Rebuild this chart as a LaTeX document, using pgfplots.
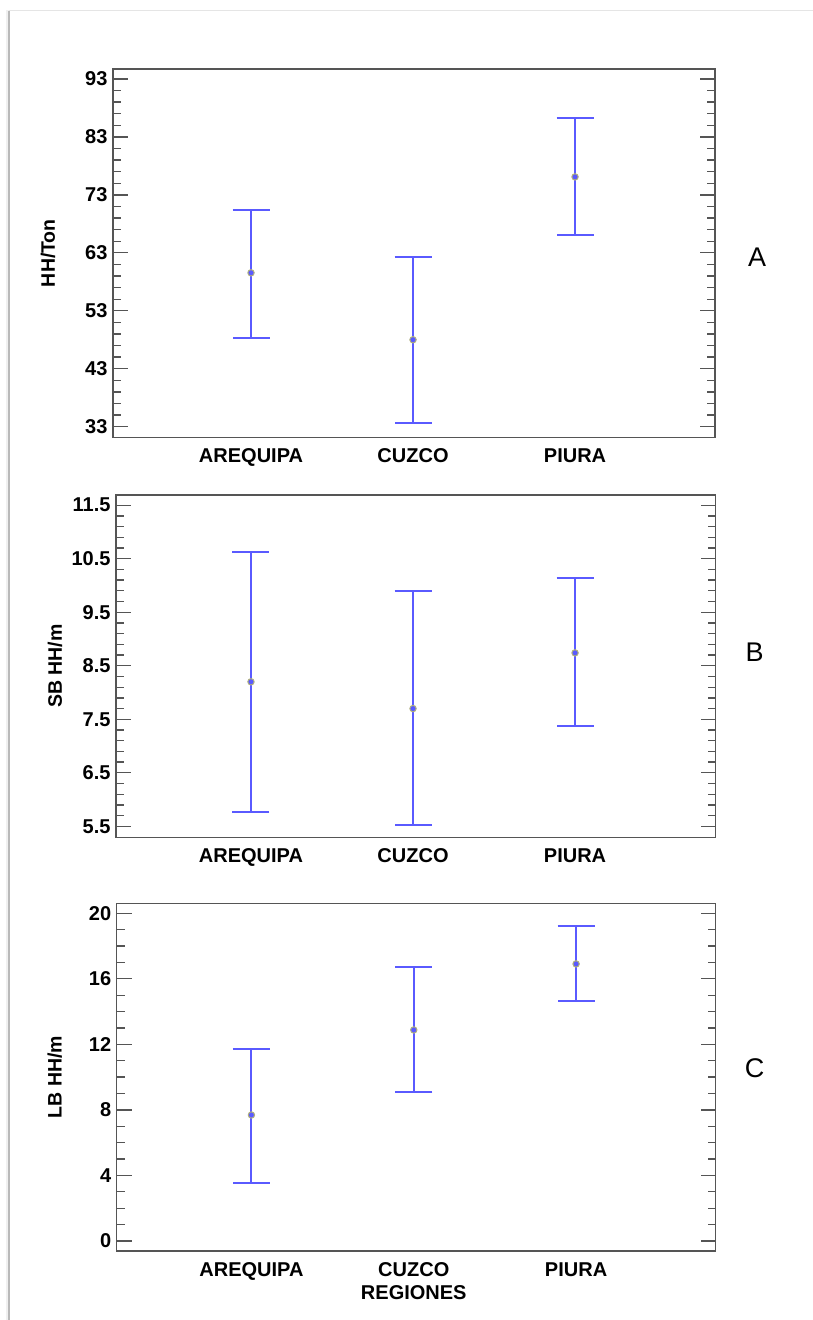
\documentclass[border=0pt]{standalone}
\usepackage{pgfplots}
\pgfplotsset{compat=1.18}
\usepackage{pgfplotstable}
\usepackage{fontspec}
\setmainfont{Liberation Sans}
\definecolor{barblue}{RGB}{90,90,255}
\definecolor{meanc}{RGB}{175,175,125}
\definecolor{axgray}{RGB}{85,85,85}

% category, mean, upper, lower
\pgfplotstableread{
x m hi lo
1 59.55 70.4 48.3
2 48.0 62.3 33.7
3 76.1 86.3 66.1
}\dataA
\pgfplotstableread{
x m hi lo
1 8.20 10.62 5.77
2 7.70 9.90 5.52
3 8.74 10.14 7.38
}\dataB
\pgfplotstableread{
x m hi lo
1 7.69 11.72 3.56
2 12.88 16.70 9.08
3 16.91 19.23 14.63
}\dataC

\pgfplotsset{
  panel/.style={
    scale only axis,
    anchor=south west,
    clip=false,
    axis line style={axgray, line width=1.3pt},
    tick align=inside,
    ytick pos=both,
    major tick length=15pt,
    minor tick length=8pt,
    every tick/.style={axgray, line width=1.3pt},
    xtick={1,2,3},
    xticklabels={AREQUIPA,CUZCO,PIURA},
    xtick style={draw=none},
    tick label style={font=\fontsize{20}{20}\selectfont\bfseries},
    /pgf/number format/assume math mode=true,
    xticklabel style={anchor=base, yshift=-25.5pt},
    yticklabel style={xshift=-2pt},
  },
  ylab/.style={every axis y label/.style={at={(rel axis cs:0,0.5)}, xshift=-#1, rotate=90, anchor=center, font=\fontsize{19.5}{19.5}\selectfont\bfseries}},
  ebar/.style={
    barblue, line width=2pt, only marks, mark=none, forget plot,
    error bars/.cd, y dir=both, y explicit,
    error mark options={rotate=90, mark size=18.5pt, line width=2pt, draw=barblue},
    error bar style={line width=2pt, draw=barblue},
  },
  meanmark/.style={only marks, mark=o, mark size=3.2pt, draw=meanc, mark options={line width=1pt, draw=meanc, fill=white}},
}

\begin{document}
\begin{tikzpicture}
\useasboundingbox (0pt,0pt) rectangle (813pt,1320pt);
\fill[gray!12] (6pt,0pt) rectangle (10pt,1310pt);
\draw[gray!55, line width=1.5pt] (9pt,0pt) -- (9pt,1309pt);
\draw[gray!20, line width=1pt] (9pt,1309pt) -- (813pt,1309pt);

% Panel A
\begin{axis}[panel, at={(113pt,882.7pt)}, width=602pt, height=368.3pt,
  xmin=0.148, xmax=3.864, ymin=31.17, ymax=94.72,
  ytick={33,43,53,63,73,83,93}, minor y tick num=4,
  ylab=65pt, ylabel={HH/Ton}]
\addplot[ebar] table[x=x, y=m, y error plus expr=\thisrow{hi}-\thisrow{m}, y error minus expr=\thisrow{m}-\thisrow{lo}] {\dataA};
\addplot[meanmark] table[x=x,y=m] {\dataA};
\node[font=\fontsize{27}{27}\selectfont] at (rel axis cs:1.07,0.489) {A};
\end{axis}

% Panel B
\begin{axis}[panel, at={(116pt,482.7pt)}, width=599.7pt, height=342.3pt,
  xmin=0.167, xmax=3.868, ymin=5.295, ymax=11.69,
  ytick={5.5,6.5,7.5,8.5,9.5,10.5,11.5}, minor y tick num=4,
  yticklabel style={/pgf/number format/.cd, fixed, fixed zerofill, precision=1},
  ylab=61pt, ylabel={SB HH/m}]
\addplot[ebar] table[x=x, y=m, y error plus expr=\thisrow{hi}-\thisrow{m}, y error minus expr=\thisrow{m}-\thisrow{lo}] {\dataB};
\addplot[meanmark] table[x=x,y=m] {\dataB};
\node[font=\fontsize{27}{27}\selectfont] at (rel axis cs:1.065,0.541) {B};
\end{axis}

% Panel C
\begin{axis}[panel, at={(116.7pt,69pt)}, width=599pt, height=347.7pt,
  xmin=0.17, xmax=3.86, ymin=-0.61, ymax=20.61,
  ytick={0,4,8,12,16,20}, minor y tick num=3,
  ylab=62pt, ylabel={LB HH/m},
  xlabel={REGIONES},
  xlabel style={at={(axis cs:2,-0.61)}, anchor=base, yshift=-48pt, font=\fontsize{20}{20}\selectfont\bfseries}]
\addplot[ebar] table[x=x, y=m, y error plus expr=\thisrow{hi}-\thisrow{m}, y error minus expr=\thisrow{m}-\thisrow{lo}] {\dataC};
\addplot[meanmark] table[x=x,y=m] {\dataC};
\node[font=\fontsize{27}{27}\selectfont] at (rel axis cs:1.065,0.526) {C};
\end{axis}
\end{tikzpicture}
\end{document}
